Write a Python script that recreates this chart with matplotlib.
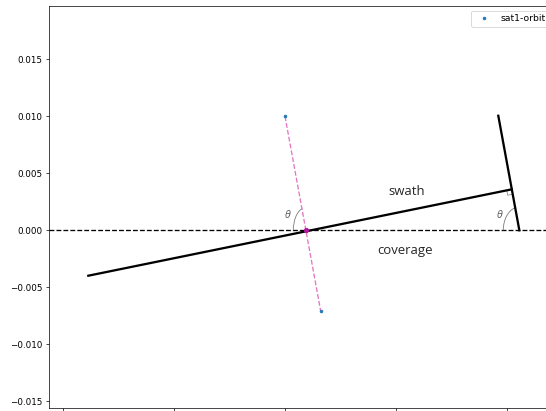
import numpy as np
import matplotlib
matplotlib.use('Agg')
import matplotlib.pyplot as plt
from matplotlib.patches import Arc

# orbit endpoints of sat1 (x, y)
orbit_x = [0.0, 0.00322]
orbit_y = [0.010, -0.00707]

# nadir crossing on the ground line
nadir_x = [0.0019]
nadir_y = [0.0]

# swath footprint and the look line at its far end
swath_x = [-0.01775, 0.02046]
swath_y = [-0.00398, 0.00359]
look_x = [0.01925, 0.02115]
look_y = [0.01004, 0.0]

xticks = [-0.02, -0.01, 0.0, 0.01, 0.02]
yticks = [-0.015, -0.010, -0.005, 0.0, 0.005, 0.010, 0.015]

DPI = 63
fig = plt.figure(figsize=(546 / DPI, 411 / DPI), dpi=DPI)
ax = fig.add_axes([0.0897, 0.008, 1.0147 - 0.0897, 0.9854 - 0.008])

ax.axhline(0, color='k', ls='--', lw=1.5, zorder=1)
ax.plot(orbit_x, orbit_y, '--', color='C6', lw=1.5, zorder=2)
ax.plot(orbit_x, orbit_y, '.', color='C0', label='sat1-orbit', zorder=3)
ax.plot(swath_x, swath_y, color='k', lw=2.6, zorder=3)
ax.plot(look_x, look_y, color='k', lw=2.6, zorder=3)
ax.plot(nadir_x, nadir_y, 'o', color='#b0179e', ms=5, zorder=4)

# angle arcs
ax.add_patch(Arc((nadir_x[0], 0), 0.0023, 0.0040, theta1=100, theta2=180,
                 color='gray', lw=1))
ax.add_patch(Arc((look_x[1], 0), 0.0029, 0.0041, theta1=100, theta2=180,
                 color='gray', lw=1))
tfont = dict(family=['Open Sans', 'DejaVu Sans'], style='italic',
             color='#555555', fontsize=12, ha='center', va='center')
ax.text(0.00025, 0.00126, 'θ', **tfont)
ax.text(0.01931, 0.00128, 'θ', **tfont)

ax.set_xlim(-0.0213, 0.02428)
ax.set_ylim(-0.01555, 0.01966)
ax.set_xticks(xticks)
ax.set_xticklabels([])
ax.set_yticks(yticks)

# right-angle mark at the swath corner (built in display space)
fig.canvas.draw()
to_px = ax.transData.transform
c = to_px((swath_x[1], swath_y[1]))
u = to_px((swath_x[0], swath_y[0])) - c
v = to_px((look_x[1], look_y[1])) - c
u = u / np.hypot(*u) * 5
v = v / np.hypot(*v) * 5
sq = ax.transData.inverted().transform([c + u, c + u + v, c + v])
ax.plot(sq[:, 0], sq[:, 1], color='gray', lw=0.8, zorder=2)

lfont = dict(family=['Open Sans', 'DejaVu Sans'], color='#262626',
             fontsize=15, ha='center', va='center')
ax.text(0.01101, 0.00336, 'swath', **lfont)
ax.text(0.01083, -0.00173, 'coverage', **lfont)

ax.legend(loc='upper right', fontsize=10.5)
fig.savefig('out.png', dpi=DPI)
